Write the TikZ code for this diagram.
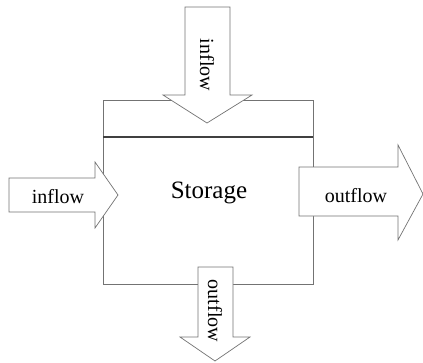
\documentclass[tikz,border=0pt]{standalone}
\usepackage{fontspec}
\setmainfont{Liberation Serif}
\tikzset{
    flowarrow/.style={draw=black!55, fill=white, line width=0.7pt, line join=miter},
    wall/.style={draw=black!55, line width=0.7pt},
    flowlabel/.style={font=\fontsize{20}{24}\selectfont, inner sep=0pt}
}
\begin{document}
\begin{tikzpicture}[x=1pt, y=-1pt]
    \useasboundingbox (0,0) rectangle (423,362);
    % storage box with its top compartment
    \coordinate (nw) at (103,100); \coordinate (se) at (313,284);
    \draw[wall] (nw) rectangle (se);
    \draw[wall, draw=black!75, line width=1.1pt] (103,137) -- (313,137);
    % the four flows
    \draw[flowarrow] (185,7) -- (230,7) -- (230,95) -- (252,95) -- (207,123) -- (163,95) -- (185,95) -- cycle;
    \draw[flowarrow] (9,178) -- (95,178) -- (95,162) -- (118,195) -- (95,228) -- (95,212) -- (9,212) -- cycle;
    \draw[flowarrow] (299,167) -- (398,167) -- (398,145) -- (423,194) -- (398,240) -- (398,216) -- (299,216) -- cycle;
    \draw[flowarrow] (198,267) -- (233,267) -- (233,337) -- (250,337) -- (215,361) -- (180,337) -- (198,337) -- cycle;
    % labels
    \node[font=\fontsize{25}{30}\selectfont, inner sep=0pt] (storage) at (209,193) {Storage};
    \node[flowlabel, rotate=-90] (topin) at (207,65) {inflow};
    \node[flowlabel] (leftin) at (58,197) {inflow};
    \node[flowlabel] (rightout) at (356,196) {outflow};
    \node[flowlabel, rotate=-90] (bottomout) at (215,311) {outflow};
\end{tikzpicture}
\end{document}
